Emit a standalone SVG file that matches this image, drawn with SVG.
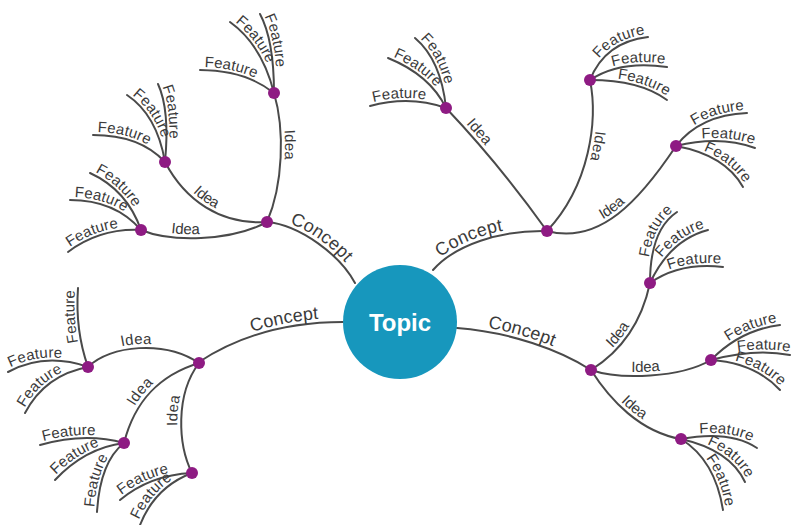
<svg xmlns="http://www.w3.org/2000/svg" xmlns:xlink="http://www.w3.org/1999/xlink" width="792" height="525" viewBox="0 0 792 525">
<style>
.ln{fill:none;stroke:#4a4a4a;stroke-width:2;stroke-linecap:round}
.t{font-family:"Liberation Sans",Arial,sans-serif;fill:#3a3a3a}
.f{font-size:15px}
.i{font-size:15px}
.c{font-size:18px}
.dot{fill:#8e1b83}
</style>
<rect width="792" height="525" fill="#fff"/>
<g id="connectors">
<path id="c1" class="ln" d="M267,222 C300,225 340,255 355,283"/>
<path id="c2" class="ln" d="M433,270 C455,245 500,230 547,231"/>
<path id="c3" class="ln" d="M199,362 C240,335 290,322 343,322"/>
<path id="c4" class="ln" d="M457,328 C510,332 560,350 591,370"/>
<path id="i1" class="ln" d="M274,93 C285,130 283,185 267,222"/>
<path id="i2" class="ln" d="M165,162 C185,200 220,225 267,222"/>
<path id="i3" class="ln" d="M141,230 C170,242 230,242 267,222"/>
<path id="i4" class="ln" d="M446,108 Q500,165 547,231"/>
<path id="i5" class="ln" d="M590,80 C598,120 590,185 547,231"/>
<path id="i6" class="ln" d="M547,231 C600,245 640,200 676,146"/>
<path id="i7" class="ln" d="M591,370 C615,355 640,330 650,283"/>
<path id="i8" class="ln" d="M591,370 C620,380 680,378 711,360"/>
<path id="i9" class="ln" d="M591,370 C610,400 640,432 681,439"/>
<path id="i10" class="ln" d="M88,367 C110,345 165,340 199,363"/>
<path id="i11" class="ln" d="M124,443 C135,400 160,375 199,363"/>
<path id="i12" class="ln" d="M192,473 C178,445 175,395 199,363"/>
<path id="fA1" class="ln" d="M200,70 Q245,70 274,93"/>
<path id="fA2" class="ln" d="M230,22 Q262,45 274,93"/>
<path id="fA3" class="ln" d="M260,14 Q274,40 274,93"/>
<path id="fB1" class="ln" d="M93,135 Q140,135 165,162"/>
<path id="fB2" class="ln" d="M127,95 Q157,115 165,162"/>
<path id="fB3" class="ln" d="M158,84 Q170,110 165,162"/>
<path id="fC1" class="ln" d="M68,252 Q100,228 141,230"/>
<path id="fC2" class="ln" d="M70,200 Q115,200 141,230"/>
<path id="fC3" class="ln" d="M90,173 Q127,190 141,230"/>
<path id="fD1" class="ln" d="M370,106 Q410,95 446,108"/>
<path id="fD2" class="ln" d="M388,58 Q430,75 446,108"/>
<path id="fD3" class="ln" d="M415,38 Q441,60 446,108"/>
<path id="fE1" class="ln" d="M590,80 Q605,42 648,37"/>
<path id="fE2" class="ln" d="M590,80 Q620,60 667,67"/>
<path id="fE3" class="ln" d="M590,80 Q640,80 667,100"/>
<path id="fF1" class="ln" d="M676,146 Q700,115 747,113"/>
<path id="fF2" class="ln" d="M676,146 Q720,135 755,148"/>
<path id="fF3" class="ln" d="M676,146 Q725,155 743,187"/>
<path id="fG1" class="ln" d="M650,283 Q650,230 677,212"/>
<path id="fG2" class="ln" d="M650,283 Q670,240 708,230"/>
<path id="fG3" class="ln" d="M650,283 Q680,262 723,267"/>
<path id="fH1" class="ln" d="M711,360 Q740,330 780,325"/>
<path id="fH2" class="ln" d="M711,360 Q755,348 790,355"/>
<path id="fH3" class="ln" d="M711,360 Q755,363 780,390"/>
<path id="fI1" class="ln" d="M681,439 Q730,430 757,448"/>
<path id="fI2" class="ln" d="M681,439 Q730,450 745,482"/>
<path id="fI3" class="ln" d="M681,439 Q715,460 723,510"/>
<path id="fJ1" class="ln" d="M88,367 Q75,330 78,288"/>
<path id="fJ2" class="ln" d="M8,372 Q45,352 88,367"/>
<path id="fJ3" class="ln" d="M25,413 Q45,375 88,367"/>
<path id="fK1" class="ln" d="M40,445 Q85,432 124,443"/>
<path id="fK2" class="ln" d="M55,480 Q85,448 124,443"/>
<path id="fK3" class="ln" d="M97,512 Q100,462 124,443"/>
<path id="fL1" class="ln" d="M120,500 Q150,475 192,473"/>
<path id="fL2" class="ln" d="M140,525 Q155,487 192,473"/>
</g>
<g id="edge-labels" class="t">
<text class="c" dy="-4"><textPath href="#c1" startOffset="50%" text-anchor="middle">Concept</textPath></text>
<text class="c" dy="-4"><textPath href="#c2" startOffset="38%" text-anchor="middle">Concept</textPath></text>
<text class="c" dy="-4"><textPath href="#c3" startOffset="62%" text-anchor="middle">Concept</textPath></text>
<text class="c" dy="-4"><textPath href="#c4" startOffset="45%" text-anchor="middle">Concept</textPath></text>
<text class="i" dy="-4"><textPath href="#i1" startOffset="40%" text-anchor="middle">Idea</textPath></text>
<text class="i" dy="-4"><textPath href="#i2" startOffset="45%" text-anchor="middle">Idea</textPath></text>
<text class="i" dy="-4"><textPath href="#i3" startOffset="35%" text-anchor="middle">Idea</textPath></text>
<text class="i" dy="-4"><textPath href="#i4" startOffset="25%" text-anchor="middle">Idea</textPath></text>
<text class="i" dy="-4"><textPath href="#i5" startOffset="40%" text-anchor="middle">Idea</textPath></text>
<text class="i" dy="-4"><textPath href="#i6" startOffset="45%" text-anchor="middle">Idea</textPath></text>
<text class="i" dy="-4"><textPath href="#i7" startOffset="42%" text-anchor="middle">Idea</textPath></text>
<text class="i" dy="-4"><textPath href="#i8" startOffset="45%" text-anchor="middle">Idea</textPath></text>
<text class="i" dy="-4"><textPath href="#i9" startOffset="50%" text-anchor="middle">Idea</textPath></text>
<text class="i" dy="-4"><textPath href="#i10" startOffset="45%" text-anchor="middle">Idea</textPath></text>
<text class="i" dy="-4"><textPath href="#i11" startOffset="45%" text-anchor="middle">Idea</textPath></text>
<text class="i" dy="-4"><textPath href="#i12" startOffset="55%" text-anchor="middle">Idea</textPath></text>
</g>
<g id="features" class="t f">
<g id="feature-A1"><text dy="-3"><textPath href="#fA1" startOffset="4">Feature</textPath></text></g>
<g id="feature-A2"><text dy="-3"><textPath href="#fA2" startOffset="4">Feature</textPath></text></g>
<g id="feature-A3"><text dy="-3"><textPath href="#fA3" startOffset="4">Feature</textPath></text></g>
<g id="feature-B1"><text dy="-3"><textPath href="#fB1" startOffset="4">Feature</textPath></text></g>
<g id="feature-B2"><text dy="-3"><textPath href="#fB2" startOffset="4">Feature</textPath></text></g>
<g id="feature-B3"><text dy="-3"><textPath href="#fB3" startOffset="4">Feature</textPath></text></g>
<g id="feature-C1"><text dy="-3"><textPath href="#fC1" startOffset="4">Feature</textPath></text></g>
<g id="feature-C2"><text dy="-3"><textPath href="#fC2" startOffset="4">Feature</textPath></text></g>
<g id="feature-C3"><text dy="-3"><textPath href="#fC3" startOffset="4">Feature</textPath></text></g>
<g id="feature-D1"><text dy="-3"><textPath href="#fD1" startOffset="4">Feature</textPath></text></g>
<g id="feature-D2"><text dy="-3"><textPath href="#fD2" startOffset="4">Feature</textPath></text></g>
<g id="feature-D3"><text dy="-3"><textPath href="#fD3" startOffset="4">Feature</textPath></text></g>
<g id="feature-E1"><text dy="-3"><textPath href="#fE1" startOffset="97%" text-anchor="end">Feature</textPath></text></g>
<g id="feature-E2"><text dy="-3"><textPath href="#fE2" startOffset="97%" text-anchor="end">Feature</textPath></text></g>
<g id="feature-E3"><text dy="-3"><textPath href="#fE3" startOffset="97%" text-anchor="end">Feature</textPath></text></g>
<g id="feature-F1"><text dy="-3"><textPath href="#fF1" startOffset="97%" text-anchor="end">Feature</textPath></text></g>
<g id="feature-F2"><text dy="-3"><textPath href="#fF2" startOffset="97%" text-anchor="end">Feature</textPath></text></g>
<g id="feature-F3"><text dy="-3"><textPath href="#fF3" startOffset="97%" text-anchor="end">Feature</textPath></text></g>
<g id="feature-G1"><text dy="-3"><textPath href="#fG1" startOffset="97%" text-anchor="end">Feature</textPath></text></g>
<g id="feature-G2"><text dy="-3"><textPath href="#fG2" startOffset="97%" text-anchor="end">Feature</textPath></text></g>
<g id="feature-G3"><text dy="-3"><textPath href="#fG3" startOffset="97%" text-anchor="end">Feature</textPath></text></g>
<g id="feature-H1"><text dy="-3"><textPath href="#fH1" startOffset="97%" text-anchor="end">Feature</textPath></text></g>
<g id="feature-H2"><text dy="-3"><textPath href="#fH2" startOffset="99%" text-anchor="end">Feature</textPath></text></g>
<g id="feature-H3"><text dy="-3"><textPath href="#fH3" startOffset="97%" text-anchor="end">Feature</textPath></text></g>
<g id="feature-I1"><text dy="-3"><textPath href="#fI1" startOffset="90%" text-anchor="end">Feature</textPath></text></g>
<g id="feature-I2"><text dy="-3"><textPath href="#fI2" startOffset="97%" text-anchor="end">Feature</textPath></text></g>
<g id="feature-I3"><text dy="-3"><textPath href="#fI3" startOffset="97%" text-anchor="end">Feature</textPath></text></g>
<g id="feature-J1"><text dy="-3"><textPath href="#fJ1" startOffset="97%" text-anchor="end">Feature</textPath></text></g>
<g id="feature-J2"><text dy="-3"><textPath href="#fJ2" startOffset="4">Feature</textPath></text></g>
<g id="feature-J3"><text dy="-3"><textPath href="#fJ3" startOffset="4">Feature</textPath></text></g>
<g id="feature-K1"><text dy="-3"><textPath href="#fK1" startOffset="4">Feature</textPath></text></g>
<g id="feature-K2"><text dy="-3"><textPath href="#fK2" startOffset="4">Feature</textPath></text></g>
<g id="feature-K3"><text dy="-3"><textPath href="#fK3" startOffset="4">Feature</textPath></text></g>
<g id="feature-L1"><text dy="-3"><textPath href="#fL1" startOffset="4">Feature</textPath></text></g>
<g id="feature-L2"><text dy="-3"><textPath href="#fL2" startOffset="4">Feature</textPath></text></g>
</g>
<g id="topic">
<circle cx="400" cy="322" r="57" fill="#1797bd"/>
<text x="400" y="331" text-anchor="middle" font-family="'Liberation Sans',Arial,sans-serif" font-size="24" font-weight="bold" fill="#fff">Topic</text>
</g>
<g id="concept-tl"><circle class="dot" cx="267" cy="222" r="6"/></g>
<g id="concept-tr"><circle class="dot" cx="547" cy="231" r="6"/></g>
<g id="concept-l"><circle class="dot" cx="199" cy="363" r="6"/></g>
<g id="concept-r"><circle class="dot" cx="591" cy="370" r="6"/></g>
<g id="idea-A"><circle class="dot" cx="274" cy="93" r="6"/></g>
<g id="idea-B"><circle class="dot" cx="165" cy="162" r="6"/></g>
<g id="idea-C"><circle class="dot" cx="141" cy="230" r="6"/></g>
<g id="idea-D"><circle class="dot" cx="446" cy="108" r="6"/></g>
<g id="idea-E"><circle class="dot" cx="590" cy="80" r="6"/></g>
<g id="idea-F"><circle class="dot" cx="676" cy="146" r="6"/></g>
<g id="idea-G"><circle class="dot" cx="650" cy="283" r="6"/></g>
<g id="idea-H"><circle class="dot" cx="711" cy="360" r="6"/></g>
<g id="idea-I"><circle class="dot" cx="681" cy="439" r="6"/></g>
<g id="idea-J"><circle class="dot" cx="88" cy="367" r="6"/></g>
<g id="idea-K"><circle class="dot" cx="124" cy="443" r="6"/></g>
<g id="idea-L"><circle class="dot" cx="192" cy="473" r="6"/></g>
</svg>
